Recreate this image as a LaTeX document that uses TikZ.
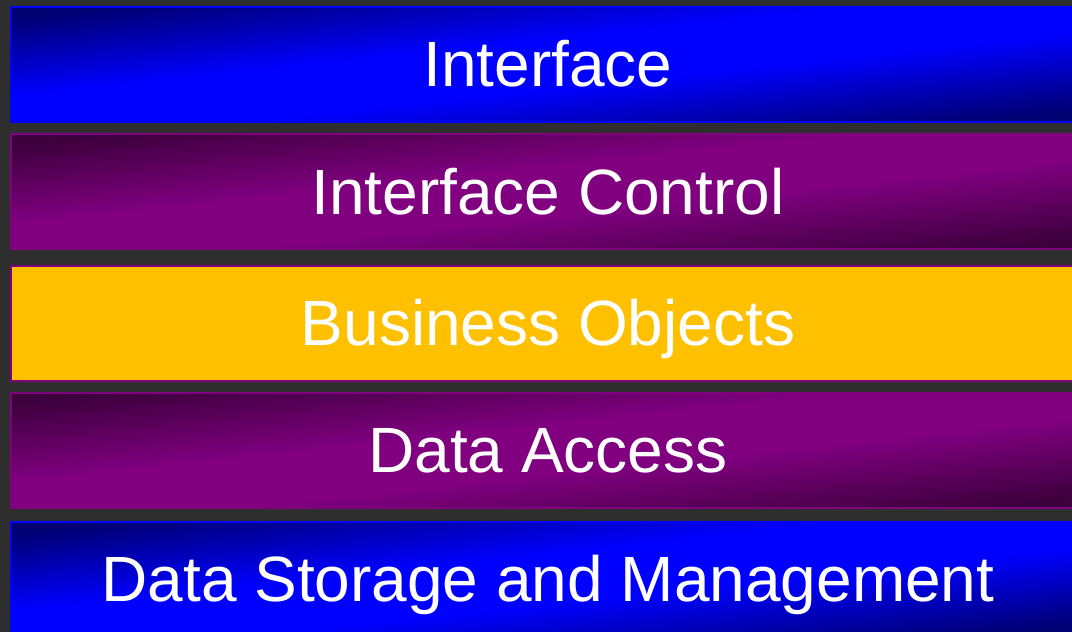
\documentclass[tikz,border=0pt]{standalone}
\usepackage{fontspec}
\setmainfont{Liberation Sans}
\definecolor{backdrop}{HTML}{2E2E2E}
\definecolor{navy}{HTML}{000070}
\definecolor{brightblue}{HTML}{0000FF}
\definecolor{plum}{HTML}{800080}
\definecolor{darkplum}{HTML}{3C003C}
\definecolor{amber}{HTML}{FFC000}
\pgfdeclareverticalshading{blueband}{100bp}{color(0bp)=(navy);
  color(25bp)=(navy); color(44bp)=(brightblue); color(56bp)=(brightblue);
  color(75bp)=(navy); color(100bp)=(navy)}
\pgfdeclareverticalshading{plumband}{100bp}{color(0bp)=(darkplum);
  color(25bp)=(darkplum); color(44bp)=(plum); color(56bp)=(plum);
  color(75bp)=(darkplum); color(100bp)=(darkplum)}
\begin{document}
\begin{tikzpicture}
[x=1pt, y=-1pt,
  layerdecorate/.style={shape=rectangle, line width=2pt,
    minimum width=1074pt, minimum height=115pt, inner sep=0pt,
    text=white, font=\fontsize{64}{64}\selectfont,
    text height=45.8pt, text depth=0pt},
  bluelayer/.style={layerdecorate, draw=brightblue, shade,
    shading=blueband, shading angle=6.1},
  plumlayer/.style={layerdecorate, draw=plum, shade,
    shading=plumband, shading angle=6.1},
  amberlayer/.style={layerdecorate, draw=plum, fill=amber}]
%% backdrop
\fill[backdrop] (0,0) rectangle (1072,632);
\useasboundingbox (0,0) rectangle (1072,632);
%% layers
\foreach \nodename/\y/\layerstyle/\caption in {iface/64/bluelayer/Interface,
  ifacectl/191.5/plumlayer/Interface Control,
  busobj/323/amberlayer/Business Objects,
  dataacc/450/plumlayer/Data Access,
  datastore/579/bluelayer/Data Storage and Management}
{
  \node (\nodename) at (548,\y) [\layerstyle] {\caption};
}
\end{tikzpicture}
\end{document}
